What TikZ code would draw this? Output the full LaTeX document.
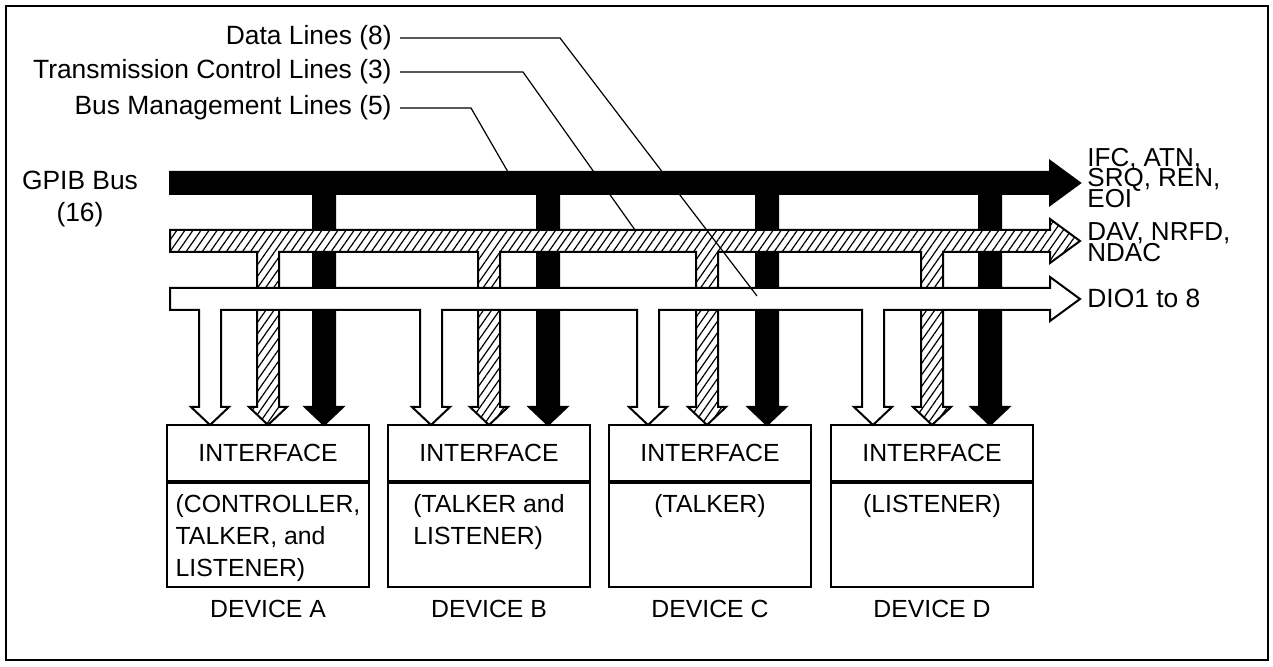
\documentclass[tikz,border=0pt]{standalone}
\usepackage{fontspec}
\setmainfont{Liberation Sans}
\usetikzlibrary{positioning,patterns.meta}
\newcommand{\lblfont}{\fontsize{13.2}{16}\selectfont}
\newcommand{\boxfont}{\fontsize{12.4}{16}\selectfont}
\newcommand{\stackfont}{\fontsize{13}{10.4}\selectfont\lineskiplimit=-20pt}
\tikzset{
  frame/.style={draw,line width=0.8pt},
  blackbus/.style={draw,line width=1pt,fill=black},
  hatchbus/.style={draw,line width=1pt,preaction={fill=white},pattern={Lines[angle=55,distance=3.3pt,line width=0.6pt]}},
  whitebus/.style={draw,line width=1pt,fill=white},
  ifbox/.style={draw,line width=0.9pt,minimum width=101pt,minimum height=28pt,inner sep=0,font=\boxfont},
  rolebox/.style={draw,line width=0.9pt,minimum width=101pt,minimum height=52pt,inner sep=0},
  role/.style={align=left,inner sep=0,font=\boxfont},
  devlbl/.style={inner sep=0,font=\boxfont},
  lbl/.style={inner sep=0,align=center,font=\lblfont},
  stack/.style={inner sep=0,align=left,font=\stackfont},
  leader/.style={draw,line width=0.6pt}}

\begin{document}
\begin{tikzpicture}[x=0.5pt,y=-0.5pt]
  \useasboundingbox (0,0) rectangle (1273,667);
  \draw[frame] (6,6) rectangle (1268,660);
  % the three buses, each with its drops to the devices
  \draw[blackbus] (170,172) -- (1050,172) -- (1050,161) -- (1080,183) -- (1050,205) -- (1050,194)
    \foreach \c in {990,767,548,324}{ -- (\c+11,194) -- (\c+11,407) -- (\c+19,407) -- (\c,425) -- (\c-19,407) -- (\c-11,407) -- (\c-11,194)}
    -- (170,194) -- cycle;
  \draw[hatchbus] (170,230) -- (1050,230) -- (1050,219) -- (1080,241) -- (1050,263) -- (1050,252)
    \foreach \c in {932,707,489,268}{ -- (\c+11,252) -- (\c+11,407) -- (\c+19,407) -- (\c,425) -- (\c-19,407) -- (\c-11,407) -- (\c-11,252)}
    -- (170,252) -- cycle;
  \draw[whitebus] (170,288) -- (1050,288) -- (1050,277) -- (1080,299) -- (1050,321) -- (1050,310)
    \foreach \c in {873,648,431,210}{ -- (\c+11,310) -- (\c+11,407) -- (\c+19,407) -- (\c,425) -- (\c-19,407) -- (\c-11,407) -- (\c-11,310)}
    -- (170,310) -- cycle;
  % devices
  \foreach \n/\x in {A/268,B/489,C/710,D/932}{
    \node[ifbox,anchor=north] (if\n) at (\x,424) {INTERFACE};
    \node[rolebox,below=0pt of if\n] (role\n) {};
    \node[devlbl,below=6pt of role\n] (dev\n) {DEVICE \n};}
  \node[role,anchor=north] (txtA) at ([yshift=-6pt]roleA.north) {(CONTROLLER,\\TALKER, and\\LISTENER)};
  \node[role,anchor=north] (txtB) at ([yshift=-6pt]roleB.north) {(TALKER and\\LISTENER)};
  \node[role,anchor=north] (txtC) at ([yshift=-6pt]roleC.north) {(TALKER)};
  \node[role,anchor=north] (txtD) at ([yshift=-6pt]roleD.north) {(LISTENER)};
  % labels
  \node[lbl] (gpib) at (80,199) {GPIB Bus\\(16)};
  \node[stack,anchor=west] (mgmtSig) at (1087,178) {IFC, ATN,\\SRQ, REN,\\EOI};
  \node[stack,anchor=west] (transSig) at (1087,242) {DAV, NRFD,\\NDAC};
  \node[lbl,anchor=west] (dataSig) at (1087,298) {DIO1 to 8};
  \node[lbl,anchor=east] (lblData) at (392,38) {Data Lines (8)};
  \node[lbl,anchor=east] (lblTrans) at (392,72) {Transmission Control Lines (3)};
  \node[lbl,anchor=east] (lblMgmt) at (392,108) {Bus Management Lines (5)};
  \coordinate (dataKnee) at (560,38);
  \coordinate (dataEnd) at (757,296);
  \coordinate (transKnee) at (523,72);
  \coordinate (transEnd) at (635,230);
  \coordinate (mgmtKnee) at (471,108);
  \coordinate (mgmtEnd) at (508,172);
  \draw[leader] ([xshift=4pt]lblData.east) -- (lblData.east -| dataKnee) -- (dataEnd);
  \draw[leader] ([xshift=4pt]lblTrans.east) -- (lblTrans.east -| transKnee) -- (transEnd);
  \draw[leader] ([xshift=4pt]lblMgmt.east) -- (lblMgmt.east -| mgmtKnee) -- (mgmtEnd);
\end{tikzpicture}
\end{document}
